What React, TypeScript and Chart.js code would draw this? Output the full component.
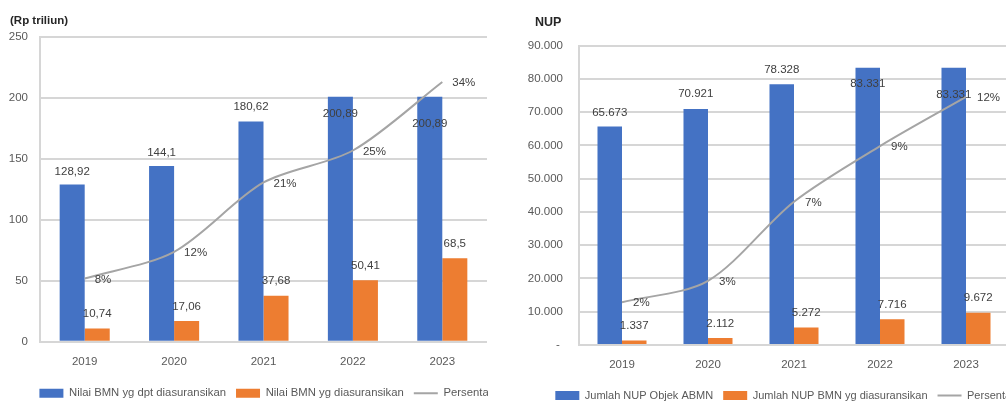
import React, { useEffect, useRef } from "react";
import { Chart, registerables } from "chart.js";

Chart.register(...registerables);

// ---------- data ----------
const YEARS = ["2019", "2020", "2021", "2022", "2023"];

// left chart (Rp triliun)
const BMN_INSURABLE = [128.92, 144.1, 180.62, 200.89, 200.89];
const BMN_INSURED = [10.74, 17.06, 37.68, 50.41, 68.5];
const BMN_PCT = [8.3, 11.8, 20.9, 25.1, 34.1];
const LEFT_Y_TICKS = [0, 50, 100, 150, 200, 250];
const LEFT_PCT_RANGE = [0, 40];

// right chart (NUP)
const NUP_OBJECT = [65673, 70921, 78328, 83331, 83331];
const NUP_INSURED = [1337, 2112, 5272, 7716, 9672];
const NUP_PCT = [2.0, 3.0, 6.7, 9.3, 11.6];
const RIGHT_Y_TICKS = [0, 10000, 20000, 30000, 40000, 50000, 60000, 70000, 80000, 90000];
const RIGHT_PCT_RANGE = [0, 14];

const LEFT_LEGEND = ["Nilai BMN yg dpt diasuransikan", "Nilai BMN yg diasuransikan", "Persentase"];
const RIGHT_LEGEND = ["Jumlah NUP Objek ABMN", "Jumlah NUP BMN yg diasuransikan", "Persentase"];

// ---------- styles ----------
const BLUE = "#4472c4";
const ORANGE = "#ed7d31";
const GRAY_LINE = "#a5a5a5";
const GRID = "#d6d6d6";
const TXT = "#595959";
const LBL = "#404040";
const FONT_FAMILY = "'Liberation Sans', Arial, sans-serif";

const fmtDec = (v: number) => String(v).replace(".", ",");
const fmtThousands = (v: number) =>
  v === 0 ? "- " : Math.round(v).toString().replace(/\B(?=(\d{3})+(?!\d))/g, ".");
const fmtPct = (v: number) => Math.round(v) + "%";

type Cfg = {
  width: number;
  height: number;
  axisLeft: number;
  plotRight: number;
  plotTop: number;
  xAxisHeight: number;
  xTickPad: number;
  yTickPad: number;
  title: string;
  titleX: number;
  titleY: number;
  titleSize: number;
  legendSize: number;
  bars1: number[];
  bars2: number[];
  pct: number[];
  pctRange: number[];
  yTicks: number[];
  fmt: (v: number) => string;
  legend: string[];
  catPct: number;
  blueDy: number[];
  orangeDy: number;
  pctDx: number;
};

function makeChart(canvas: HTMLCanvasElement, c: Cfg) {
  const labelPlugin = {
    id: "valueLabels",
    afterDatasetsDraw(chart: any) {
      const ctx = chart.ctx;
      ctx.save();
      ctx.font = `11.5px ${FONT_FAMILY}`;
      ctx.fillStyle = LBL;
      ctx.textBaseline = "middle";
      ctx.textAlign = "center";
      const m0 = chart.getDatasetMeta(0);
      m0.data.forEach((el: any, i: number) => {
        ctx.fillText(c.fmt(c.bars1[i]), el.x, el.y + c.blueDy[i]);
      });
      const m1 = chart.getDatasetMeta(1);
      m1.data.forEach((el: any, i: number) => {
        ctx.fillText(c.fmt(c.bars2[i]), el.x, el.y + c.orangeDy);
      });
      ctx.textAlign = "left";
      const m2 = chart.getDatasetMeta(2);
      m2.data.forEach((el: any, i: number) => {
        ctx.fillText(fmtPct(c.pct[i]), el.x + c.pctDx, el.y + 1);
      });
      ctx.restore();
    },
  };
  const titlePlugin = {
    id: "cornerTitle",
    afterDraw(chart: any) {
      const ctx = chart.ctx;
      ctx.save();
      ctx.font = `bold ${c.titleSize}px ${FONT_FAMILY}`;
      ctx.fillStyle = "#262626";
      ctx.textBaseline = "middle";
      ctx.textAlign = "left";
      ctx.fillText(c.title, c.titleX, c.titleY);
      ctx.restore();
    },
  };

  return new Chart(canvas, {
    type: "bar",
    data: {
      labels: YEARS,
      datasets: [
        {
          type: "bar",
          label: c.legend[0],
          data: c.bars1,
          backgroundColor: BLUE,
          borderWidth: 0,
          categoryPercentage: c.catPct,
          barPercentage: 1,
          order: 1,
          yAxisID: "y",
          pointStyle: "rect",
        },
        {
          type: "bar",
          label: c.legend[1],
          data: c.bars2,
          backgroundColor: ORANGE,
          borderWidth: 0,
          categoryPercentage: c.catPct,
          barPercentage: 1,
          order: 1,
          yAxisID: "y",
          pointStyle: "rect",
        },
        {
          type: "line",
          label: c.legend[2],
          data: c.pct,
          borderColor: GRAY_LINE,
          backgroundColor: GRAY_LINE,
          borderWidth: 2,
          pointRadius: 0,
          tension: 0.3,
          order: -1,
          yAxisID: "y1",
          pointStyle: "line",
        },
      ],
    },
    options: {
      responsive: false,
      animation: false,
      layout: { padding: { top: c.plotTop, left: 0, right: 0, bottom: 0 } },
      plugins: {
        tooltip: { enabled: false },
        title: { display: false },
        legend: {
          display: true,
          position: "bottom",
          labels: {
            usePointStyle: true,
            pointStyleWidth: 24,
            boxWidth: 24,
            boxHeight: 9,
            padding: 10,
            color: TXT,
            font: { size: c.legendSize, family: FONT_FAMILY },
            sort: (a: any, b: any) => a.datasetIndex - b.datasetIndex,
          },
        },
      },
      scales: {
        x: {
          grid: { display: false, drawTicks: false },
          border: { display: false },
          ticks: {
            color: TXT,
            padding: c.xTickPad,
            font: { size: 11.5, family: FONT_FAMILY },
          },
          afterFit: (s: any) => {
            s.height = c.xAxisHeight;
          },
        },
        y: {
          position: "left",
          min: c.yTicks[0],
          max: c.yTicks[c.yTicks.length - 1],
          grid: { color: GRID, lineWidth: 2, drawTicks: false },
          border: { display: true, color: GRID, width: 2 },
          ticks: {
            color: TXT,
            padding: c.yTickPad,
            font: { size: 11.5, family: FONT_FAMILY },
            callback: (v: any) => c.fmt(Number(v)),
          },
          afterBuildTicks: (s: any) => {
            s.ticks = c.yTicks.map((v) => ({ value: v }));
          },
          afterFit: (s: any) => {
            s.width = c.axisLeft;
          },
        },
        y1: {
          position: "right",
          min: c.pctRange[0],
          max: c.pctRange[1],
          grid: { display: false, drawTicks: false },
          border: { display: false },
          ticks: { display: false },
          afterFit: (s: any) => {
            s.width = c.width - c.plotRight;
          },
        },
      },
    } as any,
    plugins: [labelPlugin, titlePlugin] as any,
  });
}

const LEFT_CFG: Cfg = {
  width: 540,
  height: 409,
  axisLeft: 40,
  plotRight: 487,
  plotTop: 37,
  xAxisHeight: 36,
  xTickPad: 13.4,
  yTickPad: 12,
  title: "(Rp triliun)",
  titleX: 10,
  titleY: 21,
  titleSize: 11.5,
  legendSize: 11.3,
  bars1: BMN_INSURABLE,
  bars2: BMN_INSURED,
  pct: BMN_PCT,
  pctRange: LEFT_PCT_RANGE,
  yTicks: LEFT_Y_TICKS,
  fmt: fmtDec,
  legend: LEFT_LEGEND,
  catPct: 0.56,
  blueDy: [-13, -13, -14.5, 17, 27],
  orangeDy: -14.5,
  pctDx: 10,
};

const RIGHT_CFG: Cfg = {
  width: 578,
  height: 411,
  axisLeft: 79,
  plotRight: 509,
  plotTop: 45.5,
  xAxisHeight: 35,
  xTickPad: 13,
  yTickPad: 16,
  title: "NUP",
  titleX: 35,
  titleY: 23,
  titleSize: 12.5,
  legendSize: 11,
  bars1: NUP_OBJECT,
  bars2: NUP_INSURED,
  pct: NUP_PCT,
  pctRange: RIGHT_PCT_RANGE,
  yTicks: RIGHT_Y_TICKS,
  fmt: fmtThousands,
  legend: RIGHT_LEGEND,
  catPct: 0.57,
  blueDy: [-13.5, -15, -15, 16, 27],
  orangeDy: -14.5,
  pctDx: 11,
};

function ChartBox({ cfg, left, clipWidth }: { cfg: Cfg; left: number; clipWidth: number }) {
  const ref = useRef<HTMLCanvasElement | null>(null);
  useEffect(() => {
    if (!ref.current) return;
    const ch = makeChart(ref.current, cfg);
    return () => ch.destroy();
  }, [cfg]);
  return (
    <div
      style={{
        position: "absolute",
        left,
        top: 0,
        width: clipWidth,
        height: 401,
        overflow: "hidden",
      }}
    >
      <canvas
        ref={ref}
        width={cfg.width}
        height={cfg.height}
        style={{ display: "block", width: cfg.width, height: cfg.height }}
      />
    </div>
  );
}

export default function App() {
  return (
    <div
      style={{
        position: "absolute",
        left: 0,
        top: 0,
        width: 1006,
        height: 401,
        overflow: "hidden",
        background: "#ffffff",
      }}
    >
      <ChartBox cfg={LEFT_CFG} left={0} clipWidth={488} />
      <ChartBox cfg={RIGHT_CFG} left={500} clipWidth={506} />
    </div>
  );
}
